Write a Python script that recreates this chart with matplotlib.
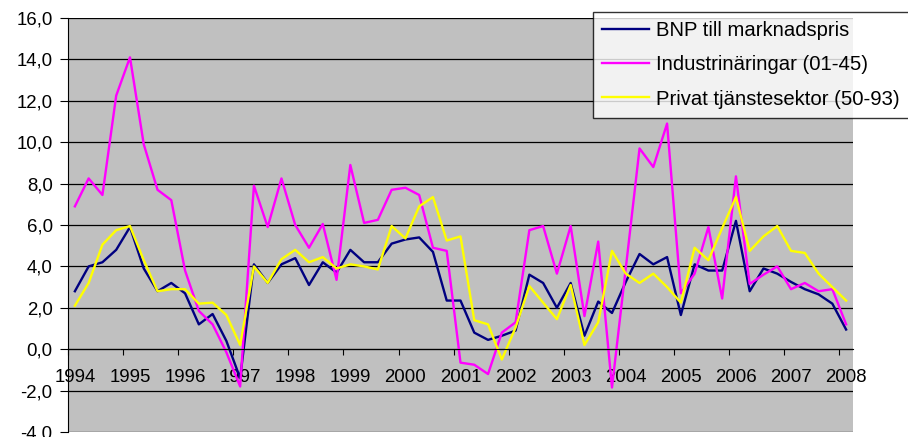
import numpy as np
import matplotlib.pyplot as plt

plt.rcParams['font.family'] = ['Liberation Sans', 'DejaVu Sans']

# quarterly, 1994 Q1 .. 2008 Q1
years = [str(y) for y in range(1994, 2009)]

bnp = [2.8, 4.0, 4.2, 4.8, 5.9, 3.9, 2.8, 3.2, 2.7, 1.2, 1.7, 0.4, -1.4,
       4.1, 3.2, 4.1, 4.4, 3.1, 4.2, 3.7, 4.8, 4.2, 4.2, 5.1, 5.3, 5.4,
       4.7, 2.35, 2.35, 0.8, 0.45, 0.65, 0.9, 3.6, 3.2, 2.0, 3.2, 0.65,
       2.3, 1.75, 3.25, 4.6, 4.1, 4.45, 1.65, 4.1, 3.8, 3.8, 6.2, 2.8,
       3.9, 3.65, 3.25, 2.9, 2.65, 2.2, 0.95]

industri = [6.9, 8.25, 7.45, 12.25, 14.1, 9.9, 7.7, 7.2, 3.8, 1.85, 1.2,
            -0.15, -1.8, 7.9, 5.9, 8.25, 6.0, 4.9, 6.05, 3.35, 8.9, 6.1,
            6.25, 7.7, 7.8, 7.45, 4.9, 4.75, -0.65, -0.75, -1.2, 0.8, 1.3,
            5.75, 5.95, 3.65, 5.95, 1.6, 5.2, -1.85, 3.9, 9.7, 8.8, 10.9,
            2.7, 3.65, 5.9, 2.45, 8.35, 3.15, 3.6, 4.0, 2.9, 3.2, 2.8, 2.9,
            1.2]

privat = [2.1, 3.2, 5.05, 5.75, 5.95, 4.3, 2.8, 2.9, 2.9, 2.2, 2.25, 1.65,
          0.2, 4.0, 3.2, 4.35, 4.8, 4.2, 4.45, 3.9, 4.1, 4.0, 3.85, 5.95,
          5.35, 6.9, 7.35, 5.25, 5.45, 1.4, 1.2, -0.5, 1.05, 3.05, 2.25,
          1.45, 3.1, 0.2, 1.3, 4.75, 3.65, 3.2, 3.65, 3.0, 2.25, 4.9, 4.3,
          5.85, 7.35, 4.75, 5.45, 5.95, 4.75, 4.65, 3.65, 3.0, 2.35]

labels = ['BNP till marknadspris', 'Industrinäringar (01-45)',
          'Privat tjänstesektor (50-93)']

W, H = 908, 437
fig = plt.figure(figsize=(W / 100, H / 100), dpi=100)
ax = fig.add_axes([68 / W, (H - 432) / H, (853 - 68) / W, (432 - 18) / H])
ax.set_facecolor('#c0c0c0')

x = np.arange(len(bnp))
ax.plot(x, bnp, color='#000080', lw=1.7, label=labels[0])
ax.plot(x, industri, color='#ff00ff', lw=1.7, label=labels[1])
ax.plot(x, privat, color='#ffff00', lw=1.7, label=labels[2])

ax.set_xlim(-0.5, len(bnp) - 0.5)
ax.set_ylim(-4, 16)
ax.set_yticks(np.arange(-4, 17, 2))
ax.set_yticklabels([f"{v:.1f}".replace('.', ',') for v in np.arange(-4, 17, 2)])
ax.yaxis.grid(True, color='black', lw=0.9)
ax.set_axisbelow(True)

# x axis sits at y = 0, ticks between year groups
ax.spines['bottom'].set_position(('data', 0))
ax.spines['bottom'].set_color('black')
ax.spines['top'].set_visible(False)
ax.spines['right'].set_visible(False)
ax.set_xticks(np.arange(-0.5, len(bnp), 4))
ax.set_xticklabels([])
ax.set_xticks(np.arange(0, len(bnp), 4), minor=True)
ax.set_xticklabels(years, minor=True)
ax.tick_params(axis='x', which='major', direction='out', length=4, color='black')
ax.tick_params(axis='x', which='minor', length=0, pad=14, labelsize=13.4)
ax.tick_params(axis='y', direction='out', length=6, pad=5, labelsize=13.4)

leg = fig.legend(loc='upper left', bbox_to_anchor=(593 / W, 1 - 12 / H),
                 frameon=True, fancybox=False, edgecolor='black',
                 fontsize=14.6, handlelength=2.3, handletextpad=0.35,
                 labelspacing=0.75, borderpad=0.45, borderaxespad=0)
leg.get_frame().set_linewidth(1.0)

fig.savefig('out.png', dpi=100)
